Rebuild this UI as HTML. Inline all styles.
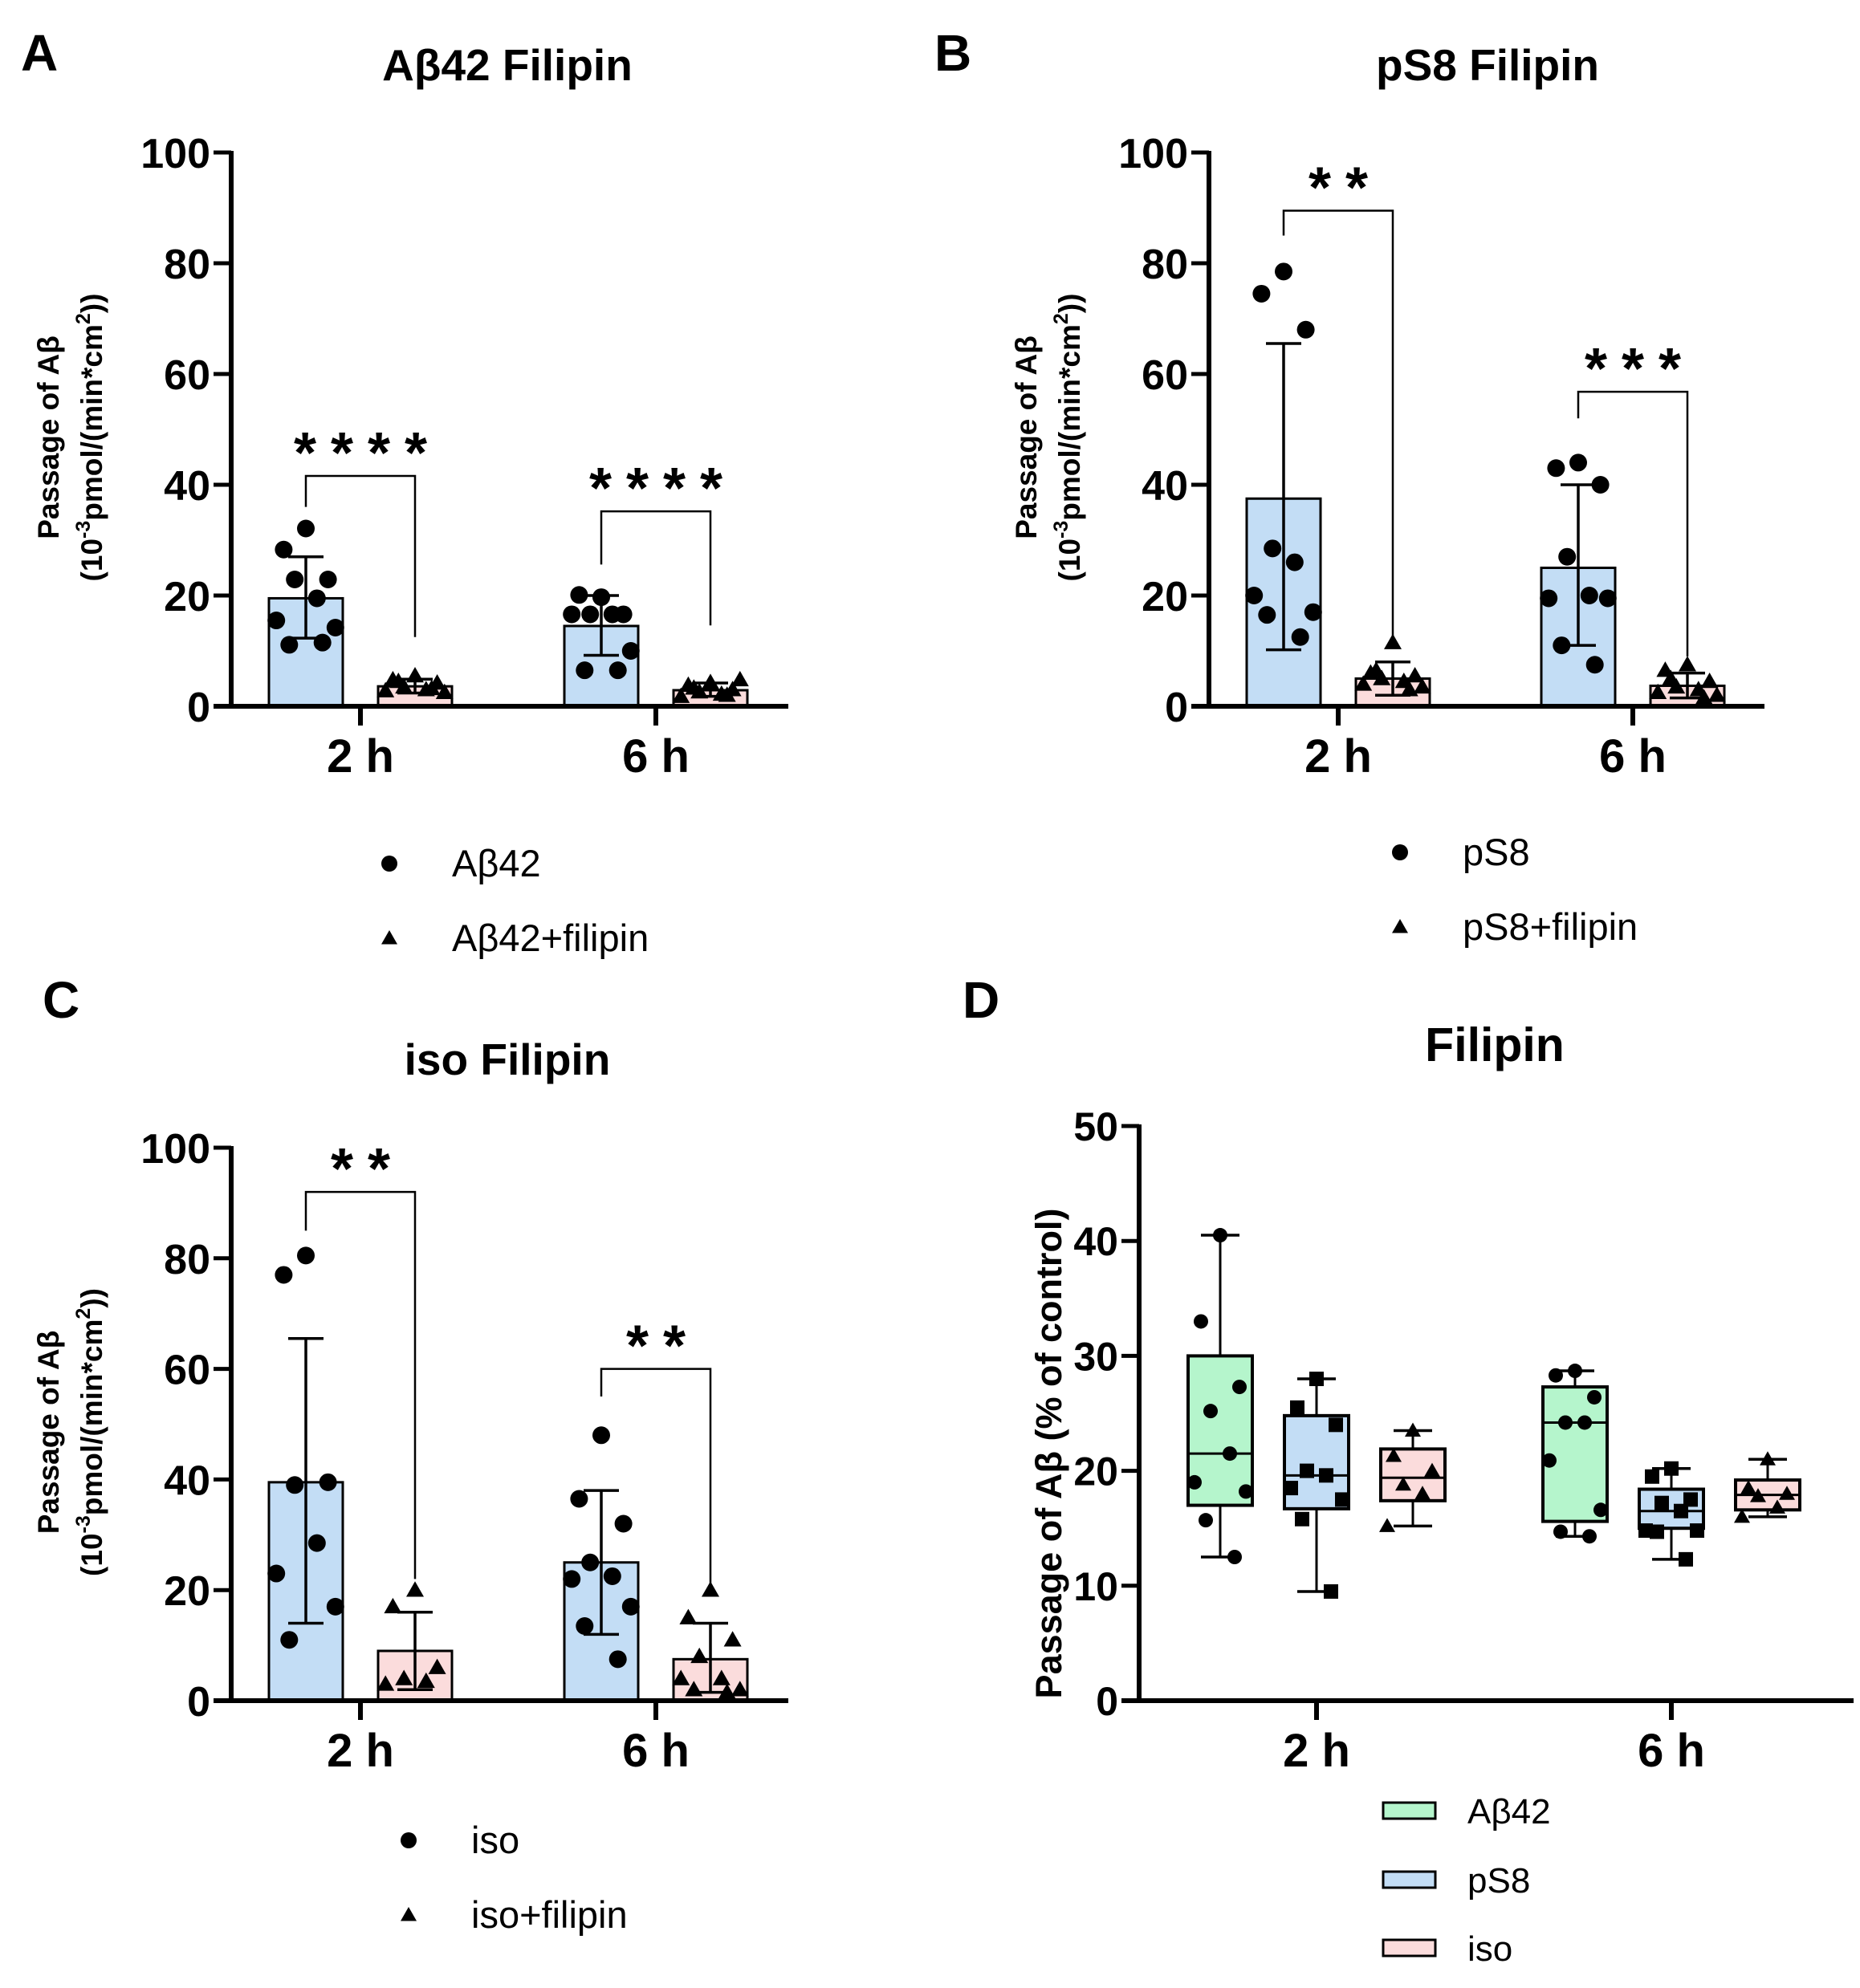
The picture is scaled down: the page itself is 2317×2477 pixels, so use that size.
<!DOCTYPE html>
<html><head><meta charset="utf-8">
<style>
html,body{margin:0;padding:0;background:#fff;}
svg{display:block;font-family:"Liberation Sans",Arial,sans-serif;}
</style></head>
<body>
<svg id="fig" width="2317" height="2477" viewBox="0 0 2317 2477" xmlns="http://www.w3.org/2000/svg"></svg>
<script>
// ---------- data ----------
const timeCats = ["2 h", "6 h"];
const ticksABC = [0, 20, 40, 60, 80, 100];
const ticksD = [0, 10, 20, 30, 40, 50];

// Panel A
const aCtrlMean = [19.5, 14.5];
const aCtrlLo = [12.3, 9.2];
const aCtrlHi = [27.0, 20.0];
const aCtrlPts = [[32.1, 28.3, 22.9, 22.9, 19.5, 15.5, 14.2, 11.1, 11.5], [19.7, 20.1, 16.6, 16.6, 16.6, 16.6, 10.0, 6.5, 6.5]];
const aFilMean = [3.6, 2.9];
const aFilLo = [2.4, 1.8];
const aFilHi = [4.9, 4.2];
const aFilPts = [[5.5, 4.8, 4.2, 3.5, 3.0, 2.8, 2.5, 4.5, 3.2], [4.3, 3.8, 3.0, 2.6, 2.2, 1.8, 4.8, 3.3, 2.0]];
const aSig = ["****", "****"];
const aBrTop = [41.6, 35.2];
const aBrLeft = [36, 25.6];
const aBrRight = [12.5, 14.6];

// Panel B
const bCtrlMean = [37.5, 25.0];
const bCtrlLo = [10.2, 11.0];
const bCtrlHi = [65.5, 40.0];
const bCtrlPts = [[78.5, 74.5, 68.0, 28.5, 26.0, 20.0, 17.0, 16.5, 12.5], [44.0, 43.0, 40.0, 27.0, 20.0, 19.5, 19.5, 11.0, 7.5]];
const bFilMean = [5.0, 3.7];
const bFilLo = [2.0, 1.5];
const bFilHi = [8.0, 6.0];
const bFilPts = [[11.5, 6.0, 5.5, 5.0, 4.5, 4.0, 3.5, 6.5, 3.0], [7.5, 6.5, 4.5, 3.5, 3.0, 2.5, 2.0, 5.0, 1.5]];
const bSig = ["**", "***"];
const bBrTop = [89.5, 56.8];
const bBrLeft = [85, 52];
const bBrRight = [12, 9];

// Panel C
const cCtrlMean = [39.5, 25.0];
const cCtrlLo = [14.0, 12.0];
const cCtrlHi = [65.5, 38.0];
const cCtrlPts = [[80.5, 77.0, 39.5, 39.0, 28.5, 23.0, 17.0, 11.0], [48.0, 36.5, 32.0, 25.0, 22.5, 22.0, 17.0, 13.5, 7.5]];
const cFilMean = [9.0, 7.5];
const cFilLo = [2.0, 1.5];
const cFilHi = [16.0, 14.0];
const cFilPts = [[20.0, 17.0, 6.0, 4.0, 3.5, 3.0], [20.0, 15.0, 11.0, 8.0, 4.0, 4.0, 2.0, 2.0, 1.5]];
const cSig = ["**", "**"];
const cBrTop = [92, 60];
const cBrLeft = [85, 55];
const cBrRight = [22, 21];

// Panel D (box plots): series x time
const dSeries = ["Aβ42", "pS8", "iso"];
const dMin = [[12.5, 14.3], [9.5, 12.3], [15.2, 16.0]];
const dQ1 = [[17.0, 15.6], [16.7, 15.0], [17.4, 16.6]];
const dMed = [[21.5, 24.2], [19.6, 16.5], [19.4, 17.9]];
const dQ3 = [[30.0, 27.3], [24.8, 18.4], [21.9, 19.2]];
const dMax = [[40.5, 28.7], [28.0, 20.2], [23.5, 21.0]];
const dPts = [
  [[40.5, 33.0, 27.3, 25.2, 21.5, 19.0, 18.2, 15.7, 12.5], [28.7, 28.3, 26.4, 24.2, 24.2, 20.9, 16.6, 14.7, 14.3]],
  [[28.0, 25.5, 24.0, 20.0, 19.6, 18.5, 17.5, 15.8, 9.5], [20.2, 19.5, 17.5, 17.2, 16.5, 14.8, 14.8, 14.7, 12.3]],
  [[23.5, 21.3, 20.0, 18.8, 18.0, 15.2], [21.0, 18.5, 18.0, 17.8, 16.8, 16.0]]
];

// ---------- drawing helpers ----------
const NS = "http://www.w3.org/2000/svg";
const svg = document.getElementById("fig");
function mk(tag, attrs, parent, text) {
  const e = document.createElementNS(NS, tag);
  for (const k in attrs) e.setAttribute(k, attrs[k]);
  if (text !== undefined) e.textContent = text;
  (parent || svg).appendChild(e);
  return e;
}
const BLUE = "#c3ddf5", PINK = "#fbdcdc", GREEN = "#b5f5cc";
const jit = [0, -0.6, 0.6, -0.3, 0.3, -0.8, 0.8, -0.45, 0.45, 0.15];

function dot(g, x, y, r) { return mk("circle", {cx: x, cy: y, r: r, fill: "#000"}, g); }
function tri(g, x, y, s) { return mk("polygon", {points: `${x},${y - s} ${x - s},${y + s * 0.75} ${x + s},${y + s * 0.75}`, fill: "#000"}, g); }
function sq(g, x, y, s) { return mk("rect", {x: x - s, y: y - s, width: 2 * s, height: 2 * s, fill: "#000"}, g); }

function barPanel(cfg) {
  const g = mk("g", {});
  
  
  const {ax, y0, y100, xEnd, centers} = cfg;
  const Y = v => y0 - (y0 - y100) * v / 100;
  const t = mk("text", {x: cfg.titleX, y: cfg.titleY, "font-size": 55, "font-weight": "bold", "text-anchor": "middle"}, g, cfg.title);
  
  
  const L = mk("text", {x: cfg.letterX, y: cfg.letterY, "font-size": 64, "font-weight": "bold"}, g, cfg.letter);
  
  
  const bw = 92, off = 68;
  for (let i = 0; i < 2; i++) {
    const groups = [
      {mean: cfg.ctrlMean[i], lo: cfg.ctrlLo[i], hi: cfg.ctrlHi[i], pts: cfg.ctrlPts[i], fill: BLUE, x: centers[i] - off, mark: "dot", nm: "bar-control-" + i},
      {mean: cfg.filMean[i], lo: cfg.filLo[i], hi: cfg.filHi[i], pts: cfg.filPts[i], fill: PINK, x: centers[i] + off, mark: "tri", nm: "bar-filipin-" + i}
    ];
    for (const s of groups) {
      const r = mk("rect", {x: s.x - bw / 2, y: Y(s.mean), width: bw, height: y0 - Y(s.mean), fill: s.fill, stroke: "#000", "stroke-width": 3}, g);
      
      
      s.pts.forEach((v, k) => {
        const px = s.x + jit[k % jit.length] * bw * 0.5;
        const m = s.mark === "dot" ? dot(g, px, Y(v), 11) : tri(g, px, Y(v), 11);
        
        
      });
      mk("line", {x1: s.x, x2: s.x, y1: Y(s.lo), y2: Y(s.hi), stroke: "#000", "stroke-width": 3.5}, g);
      mk("line", {x1: s.x - 22, x2: s.x + 22, y1: Y(s.lo), y2: Y(s.lo), stroke: "#000", "stroke-width": 3.5}, g);
      mk("line", {x1: s.x - 22, x2: s.x + 22, y1: Y(s.hi), y2: Y(s.hi), stroke: "#000", "stroke-width": 3.5}, g);
    }
    const xl = centers[i] - off, xr = centers[i] + off;
    const br = mk("path", {d: `M${xl},${Y(cfg.brLeft[i])} V${Y(cfg.brTop[i])} H${xr} V${Y(cfg.brRight[i])}`, fill: "none", stroke: "#000", "stroke-width": 2.5}, g);
    
    
    const st = mk("text", {x: centers[i] + 9, y: Y(cfg.brTop[i]) - 4, "font-size": 72, "font-weight": "bold", "text-anchor": "middle", "letter-spacing": 18}, g, cfg.sig[i]);
    
    
  }
  mk("line", {x1: ax, x2: ax, y1: y100 - 2, y2: y0 + 2, stroke: "#000", "stroke-width": 6}, g);
  mk("line", {x1: ax - 22, x2: xEnd, y1: y0, y2: y0, stroke: "#000", "stroke-width": 6}, g);
  ticksABC.forEach(v => {
    mk("line", {x1: ax - 22, x2: ax, y1: Y(v), y2: Y(v), stroke: "#000", "stroke-width": 5}, g);
    const tl = mk("text", {x: ax - 26, y: Y(v) + 19, "font-size": 52, "font-weight": "bold", "text-anchor": "end"}, g, v);
    
    
  });
  timeCats.forEach((c, i) => {
    mk("line", {x1: centers[i], x2: centers[i], y1: y0, y2: y0 + 24, stroke: "#000", "stroke-width": 6}, g);
    const xl = mk("text", {x: centers[i], y: y0 + 82, "font-size": 58, "font-weight": "bold", "text-anchor": "middle"}, g, c);
    
    
  });
  const yc = (y0 + y100) / 2 + 10;
  const yt = mk("text", {x: 0, y: 0, "font-size": 37, "font-weight": "bold", "text-anchor": "middle", transform: `translate(${ax - 215},${yc}) rotate(-90)`}, g);
  
  
  mk("tspan", {x: 0, dy: 0}, yt, "Passage of Aβ");
  mk("tspan", {x: 0, dy: 54}, yt, "(10");
  mk("tspan", {dy: -15, "font-size": 25}, yt, "-3");
  mk("tspan", {dy: 15}, yt, "pmol/(min*cm");
  mk("tspan", {dy: -15, "font-size": 25}, yt, "2");
  mk("tspan", {dy: 15}, yt, "))");
  const lg = mk("g", {});
  
  
  dot(lg, cfg.legX, cfg.legY, 10);
  const l1 = mk("text", {x: cfg.legX + 78, y: cfg.legY + 16, "font-size": 47}, lg, cfg.leg1);
  
  
  tri(lg, cfg.legX, cfg.legY + 93, 10);
  const l2 = mk("text", {x: cfg.legX + 78, y: cfg.legY + 109, "font-size": 47}, lg, cfg.leg2);
  
  
}

barPanel({name: "panel-a", letter: "A", letterX: 26, letterY: 88, title: "Aβ42 Filipin", titleX: 632, titleY: 100,
  ax: 288, y0: 880, y100: 190, xEnd: 982, centers: [449, 817],
  ctrlMean: aCtrlMean, ctrlLo: aCtrlLo, ctrlHi: aCtrlHi, ctrlPts: aCtrlPts,
  filMean: aFilMean, filLo: aFilLo, filHi: aFilHi, filPts: aFilPts,
  sig: aSig, brTop: aBrTop, brLeft: aBrLeft, brRight: aBrRight,
  legX: 485, legY: 1076, leg1: "Aβ42", leg2: "Aβ42+filipin"});
barPanel({name: "panel-b", letter: "B", letterX: 1164, letterY: 88, title: "pS8 Filipin", titleX: 1853, titleY: 100,
  ax: 1506, y0: 880, y100: 190, xEnd: 2198, centers: [1667, 2034],
  ctrlMean: bCtrlMean, ctrlLo: bCtrlLo, ctrlHi: bCtrlHi, ctrlPts: bCtrlPts,
  filMean: bFilMean, filLo: bFilLo, filHi: bFilHi, filPts: bFilPts,
  sig: bSig, brTop: bBrTop, brLeft: bBrLeft, brRight: bBrRight,
  legX: 1744, legY: 1062, leg1: "pS8", leg2: "pS8+filipin"});
barPanel({name: "panel-c", letter: "C", letterX: 53, letterY: 1268, title: "iso Filipin", titleX: 632, titleY: 1339,
  ax: 288, y0: 2119, y100: 1430, xEnd: 982, centers: [449, 817],
  ctrlMean: cCtrlMean, ctrlLo: cCtrlLo, ctrlHi: cCtrlHi, ctrlPts: cCtrlPts,
  filMean: cFilMean, filLo: cFilLo, filHi: cFilHi, filPts: cFilPts,
  sig: cSig, brTop: cBrTop, brLeft: cBrLeft, brRight: cBrRight,
  legX: 509, legY: 2293, leg1: "iso", leg2: "iso+filipin"});

// ---------- Panel D ----------
(function () {
  const g = mk("g", {});
  
  
  const ax = 1419, y0 = 2119, y50 = 1403, xEnd = 2309, centers = [1640, 2082];
  const Y = v => y0 - (y0 - y50) * v / 50;
  const L = mk("text", {x: 1199, y: 1268, "font-size": 64, "font-weight": "bold"}, g, "D");
  
  
  const t = mk("text", {x: 1862, y: 1322, "font-size": 59, "font-weight": "bold", "text-anchor": "middle"}, g, "Filipin");
  
  
  const fills = [GREEN, BLUE, PINK];
  const bw = 80, step = 120;
  for (let s = 0; s < 3; s++) {
    for (let i = 0; i < 2; i++) {
      const x = centers[i] + (s - 1) * step;
      mk("line", {x1: x, x2: x, y1: Y(dMax[s][i]), y2: Y(dMin[s][i]), stroke: "#000", "stroke-width": 3}, g);
      mk("line", {x1: x - 24, x2: x + 24, y1: Y(dMax[s][i]), y2: Y(dMax[s][i]), stroke: "#000", "stroke-width": 3.5}, g);
      mk("line", {x1: x - 24, x2: x + 24, y1: Y(dMin[s][i]), y2: Y(dMin[s][i]), stroke: "#000", "stroke-width": 3.5}, g);
      const b = mk("rect", {x: x - bw / 2, y: Y(dQ3[s][i]), width: bw, height: Y(dQ1[s][i]) - Y(dQ3[s][i]), fill: fills[s], stroke: "#000", "stroke-width": 4}, g);
      
      
      mk("line", {x1: x - bw / 2, x2: x + bw / 2, y1: Y(dMed[s][i]), y2: Y(dMed[s][i]), stroke: "#000", "stroke-width": 3}, g);
      dPts[s][i].forEach((v, k) => {
        const px = x + jit[k % jit.length] * 40;
        let m;
        if (s === 0) m = dot(g, px, Y(v), 9);
        else if (s === 1) m = sq(g, px, Y(v), 9);
        else m = tri(g, px, Y(v), 10);
        
        
      });
    }
  }
  mk("line", {x1: ax, x2: ax, y1: y50 - 2, y2: y0 + 2, stroke: "#000", "stroke-width": 6}, g);
  mk("line", {x1: ax - 22, x2: xEnd, y1: y0, y2: y0, stroke: "#000", "stroke-width": 6}, g);
  ticksD.forEach(v => {
    mk("line", {x1: ax - 22, x2: ax, y1: Y(v), y2: Y(v), stroke: "#000", "stroke-width": 5}, g);
    const tl = mk("text", {x: ax - 26, y: Y(v) + 18, "font-size": 50, "font-weight": "bold", "text-anchor": "end"}, g, v);
    
    
  });
  timeCats.forEach((c, i) => {
    mk("line", {x1: centers[i], x2: centers[i], y1: y0, y2: y0 + 24, stroke: "#000", "stroke-width": 6}, g);
    const xl = mk("text", {x: centers[i], y: y0 + 82, "font-size": 58, "font-weight": "bold", "text-anchor": "middle"}, g, c);
    
    
  });
  const yt = mk("text", {x: 0, y: 0, "font-size": 45, "font-weight": "bold", "text-anchor": "middle", transform: `translate(${ax - 97},${(y0 + y50) / 2 + 50}) rotate(-90)`}, g, "Passage of Aβ (% of control)");
  
  
  const lg = mk("g", {});
  
  
  const ly = [2256, 2342, 2427];
  dSeries.forEach((nm, s) => {
    mk("rect", {x: 1723, y: ly[s] - 10, width: 65, height: 20, fill: fills[s], stroke: "#000", "stroke-width": 3}, lg);
    const lt = mk("text", {x: 1828, y: ly[s] + 16, "font-size": 44}, lg, nm);
    
    
  });
})();
</script>
</body></html>
